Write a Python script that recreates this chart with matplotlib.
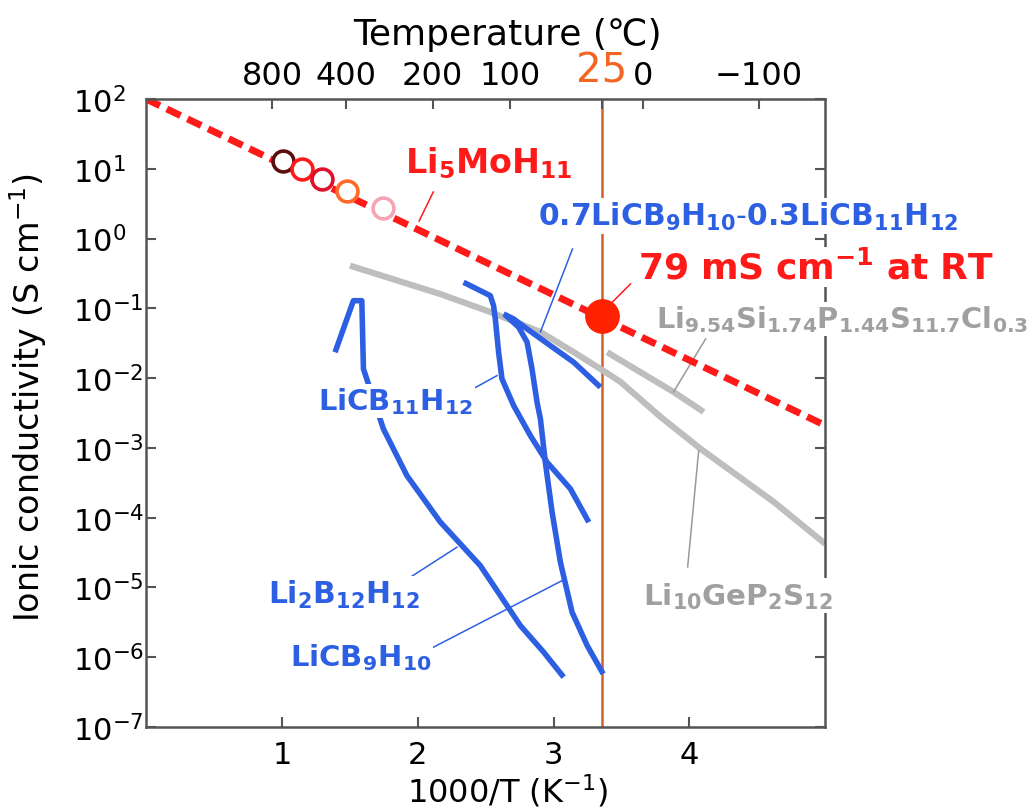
import numpy as np
import matplotlib.pyplot as plt

plt.rcParams['font.family'] = ['DejaVu Sans']
plt.rcParams['mathtext.fontset'] = 'dejavusans'

# Li5MoH11: dashed fit, open circles (heating runs), RT point
mo_fit_x = [0.0, 5.0]
mo_fit_sigma = [100.0, 2.1e-3]
mo_x = [1.01, 1.145, 1.293, 1.477, 1.747]
mo_sigma = [13.1, 9.9, 7.1, 4.85, 2.74]
mo_colors = ['#5c0d0d', '#ff1a1a', '#e0102a', '#ff6a2a', '#f5a3b5']
rt_x = 3.354
rt_sigma = 0.079

# complex hydrides (log10 sigma)
cb11_x = [2.337, 2.534, 2.558, 2.571, 2.595, 2.620, 2.706, 2.829, 2.952, 3.124, 3.259]
cb11_log = [-0.626, -0.818, -0.961, -1.152, -1.629, -2.011, -2.394, -2.824, -3.205, -3.587, -4.064]
mix_x = [2.632, 2.706, 2.805, 2.976, 3.148, 3.345]
mix_log = [-1.080, -1.152, -1.295, -1.534, -1.772, -2.130]
cb9_x = [2.645, 2.743, 2.805, 2.841, 2.878, 2.903, 2.939, 2.989, 3.050, 3.136, 3.247, 3.365]
cb9_log = [-1.095, -1.271, -1.486, -1.868, -2.345, -2.585, -3.205, -3.921, -4.638, -5.354, -5.832, -6.238]
b12_x = [1.391, 1.526, 1.588, 1.600, 1.747, 1.920, 2.165, 2.460, 2.608, 2.755, 2.927, 3.074]
b12_log = [-1.629, -0.890, -0.890, -1.868, -2.728, -3.397, -4.060, -4.686, -5.116, -5.546, -5.927, -6.285]

# sulfides (log10 sigma)
lgps_x = [1.501, 2.165, 2.534, 2.903, 3.146, 3.345, 3.493, 3.788, 4.083, 4.621, 5.0]
lgps_log = [-0.388, -0.794, -1.052, -1.338, -1.625, -1.868, -2.054, -2.556, -3.014, -3.774, -4.375]
lspscl_x = [3.394, 3.883, 4.105]
lspscl_log = [-1.629, -2.198, -2.484]

top_pos = [0.93, 1.47, 2.11, 2.68, 3.354, 3.66, 4.51]
top_labels = ['800', '400', '200', '100', '25', '0', '\u2212100']

blue = '#2d5fe3'
grey = '#bebebe'
grey_txt = '#a0a0a0'
red = '#ff1a1a'
orange = '#d2602a'
spine_c = '#555555'

fig = plt.figure(figsize=(10.29, 8.12), dpi=100)
ax = fig.add_axes([0.142, 0.1034, 0.66, 0.7734])

ax.axvline(rt_x, color=orange, lw=1.8, zorder=1)

ax.plot(lgps_x, 10 ** np.array(lgps_log), color=grey, lw=4.5, solid_capstyle='butt', zorder=2)
ax.plot(lspscl_x, 10 ** np.array(lspscl_log), color=grey, lw=4.5, solid_capstyle='butt', zorder=2)

for xs, ls in [(cb11_x, cb11_log), (mix_x, mix_log), (cb9_x, cb9_log), (b12_x, b12_log)]:
    ax.plot(xs, 10 ** np.array(ls), color=blue, lw=4, solid_capstyle='butt', zorder=2.2)

ax.plot(mo_fit_x, mo_fit_sigma, color=red, lw=5, dashes=(2.2, 1.1), dash_capstyle='butt', zorder=2.4)
for x, s, c in zip(mo_x, mo_sigma, mo_colors):
    ax.plot([x], [s], 'o', mfc='white', mec=c, mew=2.6, ms=15, zorder=2.6)
ax.plot([rt_x], [rt_sigma], 'o', color='#ff2200', ms=24, zorder=2.6)

# leader lines
leaders = [
    ([2.114, 2.010], [0.668, 0.252], red),
    ([3.566, 3.404], [-0.650, -0.966], red),
    ([3.139, 2.903], [-0.149, -1.338], blue),
    ([2.362, 2.583], [-2.202, -1.964], blue),
    ([1.907, 2.288], [-4.901, -4.423], blue),
    ([2.091, 3.063], [-5.880, -4.901], blue),
    ([4.119, 3.883], [-1.438, -2.198], '#999999'),
    ([3.987, 4.068], [-4.705, -3.043], '#999999'),
]
for xs, ls, c in leaders:
    ax.plot(xs, 10 ** np.array(ls), color=c, lw=1.1, zorder=2.3)

box = dict(facecolor='white', edgecolor='none', pad=1.5)
labels = [
    (1.907, 12.5, r'$\mathbf{Li_5MoH_{11}}$', red),
    (2.888, 2.11, r'$\mathbf{0.7LiCB_9H_{10}\text{-}0.3LiCB_{11}H_{12}}$', blue),
    (3.625, 0.392, r'$\mathbf{79\ mS\ cm^{-1}\ at\ RT}$', red),
    (3.751, 0.0705, r'$\mathbf{Li_{9.54}Si_{1.74}P_{1.44}S_{11.7}Cl_{0.3}}$', grey_txt),
    (1.265, 4.7e-3, r'$\mathbf{LiCB_{11}H_{12}}$', blue),
    (0.897, 8.1e-6, r'$\mathbf{Li_2B_{12}H_{12}}$', blue),
    (1.059, 1.01e-6, r'$\mathbf{LiCB_9H_{10}}$', blue),
    (3.655, 7.6e-6, r'$\mathbf{Li_{10}GeP_2S_{12}}$', grey_txt),
]
sizes = [24, 21.5, 26, 20.8, 21, 21.4, 21, 21.2]
for (x, y, t, c), fs in zip(labels, sizes):
    ax.text(x, y, t, color=c, fontsize=fs, ha='left', va='center', bbox=box, zorder=4)

ax.set_yscale('log')
ax.set_xlim(0, 5)
ax.set_ylim(1e-7, 1e2)
ax.set_xticks([1, 2, 3, 4])
ax.set_yticks([10.0 ** k for k in range(-7, 3)])
ax.minorticks_off()
ax.tick_params(direction='in', length=7, width=1.5, color=spine_c, right=True, top=False)
ax.tick_params(axis='x', labelsize=22, pad=9)
ax.tick_params(axis='y', labelsize=22, pad=53)
for lbl in ax.get_yticklabels():
    lbl.set_horizontalalignment('left')
for s in ax.spines.values():
    s.set_color(spine_c)
    s.set_linewidth(1.8)

ax2 = ax.twiny()
ax2.set_xlim(ax.get_xlim())
ax2.set_xticks(top_pos)
ax2.set_xticklabels(top_labels)
ax2.tick_params(direction='in', length=7, width=1.5, color=spine_c, labelsize=23, pad=6)
for s in ax2.spines.values():
    s.set_visible(False)
ax2.get_xticklabels()[4].set_color('#f26522')
ax2.get_xticklabels()[4].set_fontsize(29)
ax2.xaxis.get_major_ticks()[4].tick2line.set_color(orange)

fig.text(0.493, 0.957, 'Temperature (\u2103)', fontsize=26, ha='center', va='center')
fig.text(0.493, 0.026, '1000/T (K$^{-1}$)', fontsize=23, ha='center', va='center')
fig.text(0.027, 0.51, 'Ionic conductivity (S cm$^{-1}$)', fontsize=24, ha='center', va='center',
         rotation=90)

fig.savefig('out.png', dpi=100)
